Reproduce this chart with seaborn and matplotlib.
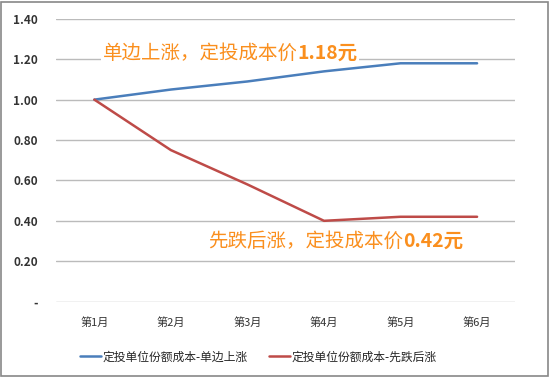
import pandas as pd
import matplotlib.pyplot as plt
import seaborn as sns

# chart data
months = ['第1月', '第2月', '第3月', '第4月', '第5月', '第6月']
cost_rise = [1.00, 1.05, 1.09, 1.14, 1.18, 1.18]
cost_dip = [1.00, 0.75, 0.58, 0.40, 0.42, 0.42]
series_names = ['定投单位份额成本-单边上涨', '定投单位份额成本-先跌后涨']
y_ticks = [0, 0.2, 0.4, 0.6, 0.8, 1.0, 1.2, 1.4]
y_labels = ['-', '0.20', '0.40', '0.60', '0.80', '1.00', '1.20', '1.40']

df = pd.DataFrame({'month': months * 2,
                   'cost': cost_rise + cost_dip,
                   'series': [series_names[0]] * 6 + [series_names[1]] * 6})

sns.set_style('white')
plt.rcParams['font.family'] = ['Noto Sans CJK SC', 'DejaVu Sans']

fig = plt.figure(figsize=(5.5, 3.77), dpi=100)
ax = fig.add_axes([0.102, 0.2, 0.835, 0.75])

sns.lineplot(data=df, x='month', y='cost', hue='series', sort=False,
             palette=['#4A7EBB', '#BE4B48'], linewidth=1.8, ax=ax)

ax.set_xlim(-0.5, 5.5)
ax.set_ylim(0, 1.4)
ax.set_yticks(y_ticks)
ax.set_yticklabels(y_labels)
ax.yaxis.grid(True, color='#BBBBBB', linewidth=1)
ax.set_axisbelow(True)
for s in ax.spines.values():
    s.set_visible(False)
ax.tick_params(axis='both', length=0, colors='#333333')
ax.tick_params(axis='y', pad=13, labelsize=8.5)
ax.tick_params(axis='x', pad=11, labelsize=8)
for t in ax.get_yticklabels():
    t.set_fontweight('bold')
ax.set_xlabel('')
ax.set_ylabel('')

ax.legend(loc='upper center', bbox_to_anchor=(0.44, -0.135), ncol=2,
          frameon=False, fontsize=8.5, handlelength=1.8, columnspacing=1.8,
          handletextpad=0.1)

orange = '#FA8F1E'
t1 = ax.text(0.11, 1.23, '单边上涨，定投成本价', color=orange, fontsize=14,
             va='center', ha='left',
             bbox=dict(facecolor='white', edgecolor='none', pad=1))
ax.annotate('1.18元', xy=(1, 0.5), xycoords=t1, va='center', ha='left',
            color=orange, fontsize=14, fontweight='bold',
            bbox=dict(facecolor='white', edgecolor='none', pad=1))
t2 = ax.text(1.49, 0.30, '先跌后涨，定投成本价', color=orange, fontsize=14,
             va='center', ha='left')
ax.annotate('0.42元', xy=(1, 0.5), xycoords=t2, va='center', ha='left',
            color=orange, fontsize=14, fontweight='bold')

fig.patches.append(plt.Rectangle((0.002, 0.003), 0.995, 0.993, transform=fig.transFigure,
                                 fill=False, edgecolor='#888888', linewidth=1.2))

fig.savefig('out.png', dpi=100)
